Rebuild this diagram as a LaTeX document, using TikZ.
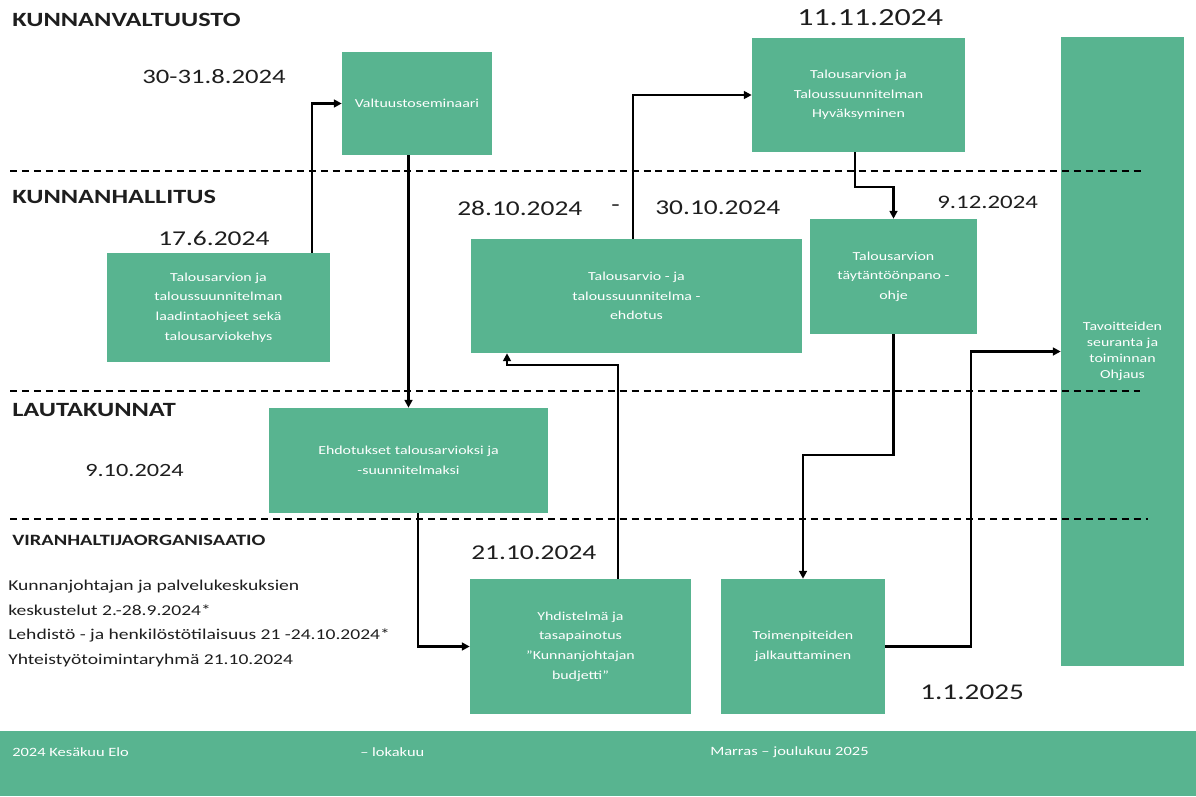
\documentclass[tikz,border=0pt]{standalone}
\usepackage{fontspec}
\setmainfont{Carlito}[FakeStretch=1.3]
\usetikzlibrary{arrows.meta,calc,positioning}
\definecolor{vihrea}{RGB}{88,180,144}
\definecolor{teksti}{RGB}{30,30,30}
\tikzset{
  laatikko/.style={fill=vihrea, text=white, align=center, inner sep=2pt, font=\fontsize{8.7}{14}\selectfont},
  otsikko/.style={anchor=west, inner sep=0pt, text=teksti, font=\bfseries\fontsize{14.4}{16}\selectfont},
  pvm/.style={anchor=west, inner sep=0pt, text=teksti, font=\fontsize{15}{18}\selectfont},
  alaosa/.style={anchor=west, inner sep=0pt, text=white, font=\fontsize{9}{11}\selectfont},
  nuoli/.style={line width=1.6pt, -{Triangle[length=5.5pt,width=5.5pt]}},
  raja/.style={line width=1.4pt, dash pattern=on 5pt off 3.5pt},
}
\begin{document}
\begin{tikzpicture}[x=0.025cm,y=-0.025cm]
\useasboundingbox (0,0) rectangle (1196,796);
% tasot
\node[otsikko] (valtuusto) at (12,20) {KUNNANVALTUUSTO};
\node[otsikko] (hallitus) at (12,197) {KUNNANHALLITUS};
\node[otsikko] (lautakunnat) at (12,410) {LAUTAKUNNAT};
\node[otsikko, font=\bfseries\fontsize{11.2}{12}\selectfont] (viranhaltijat) at (12,540) {VIRANHALTIJAORGANISAATIO};
% paivamaarat
\node[pvm, font=\fontsize{14.6}{18}\selectfont] (pvm1) at (142,77) {30-31.8.2024};
\node[pvm, font=\fontsize{17.5}{20}\selectfont] (pvm2) at (797,18) {11.11.2024};
\node[pvm] (pvm3) at (158,238) {17.6.2024};
\node[pvm] (pvm4) at (457,208) {28.10.2024};
\node[pvm] (valiviiva) at (611,208) {-};
\node[pvm] (pvm5) at (655,208) {30.10.2024};
\node[pvm, font=\fontsize{13.6}{18}\selectfont] (pvm6) at (937,202) {9.12.2024};
\node[pvm, font=\fontsize{13.3}{18}\selectfont] (pvm7) at (85,470) {9.10.2024};
\node[pvm] (pvm8) at (471,553) {21.10.2024};
\node[pvm, font=\fontsize{16}{20}\selectfont] (pvm9) at (920,692) {1.1.2025};
\node[anchor=north west, inner sep=0pt, align=left, text=teksti, font=\fontsize{10.7}{17.4}\selectfont] (keskustelut) at (8,580)
  {Kunnanjohtajan ja palvelukeskuksien\\ keskustelut 2.-28.9.2024*\\ Lehdistö - ja henkilöstötilaisuus 21 -24.10.2024*\\ Yhteistyötoimintaryhmä 21.10.2024};
% laatikot
\node[laatikko, minimum width=3.75cm, minimum height=2.575cm] (seminaari) at (417,103.5) {Valtuustoseminaari};
\node[laatikko, minimum width=5.325cm, minimum height=2.85cm] (hyvaksyminen) at (858.5,95) {Talousarvion ja\\ Taloussuunnitelman\\ Hyväksyminen};
\node[laatikko, minimum width=5.575cm, minimum height=2.725cm] (ohjeet) at (218.5,307.5) {Talousarvion ja\\ taloussuunnitelman\\ laadintaohjeet sekä\\ talousarviokehys};
\node[laatikko, minimum width=8.275cm, minimum height=2.85cm] (ehdotus) at (636.5,296) {Talousarvio - ja\\ taloussuunnitelma -\\ ehdotus};
\node[laatikko, minimum width=4.175cm, minimum height=2.875cm] (taytanto) at (893.5,276.5) {Talousarvion\\ täytäntöönpano -\\ ohje};
\node[laatikko, minimum width=3.075cm, minimum height=15.725cm, font=\fontsize{8.7}{11.5}\selectfont] (seuranta) at (1122.5,351.5) {Tavoitteiden\\ seuranta ja\\ toiminnan\\ Ohjaus};
\node[laatikko, minimum width=6.975cm, minimum height=2.625cm] (ehdotukset) at (408.5,460.5) {Ehdotukset talousarvioksi ja\\ -suunnitelmaksi};
\node[laatikko, minimum width=5.525cm, minimum height=3.375cm] (yhdistelma) at (580.5,646.5) {Yhdistelmä ja\\ tasapainotus\\ "Kunnanjohtajan\\ budjetti"};
\node[laatikko, minimum width=4.1cm, minimum height=3.375cm] (toimenpiteet) at (803,646.5) {Toimenpiteiden\\ jalkauttaminen};
% aikajana alhaalla
\node[fill=vihrea, anchor=north west, inner sep=0pt, minimum width=29.9cm, minimum height=1.625cm] (palkki) at (0,731) {};
\node[alaosa] (kausi1) at (12,752) {2024 Kesäkuu Elo};
\node[alaosa] (kausi2) at (360,752) {– lokakuu};
\node[alaosa] (kausi3) at (710,752) {Marras – joulukuu 2025};
% rajaviivat
\draw[raja] (10,171) -- (1145,171);
\draw[raja] (10,391) -- (1140,391);
\draw[raja] (10,519) -- (1148,519);
% nuolet
\coordinate (k1) at (312,0);
\coordinate (k3) at (418,0);
\coordinate (k4) at (618,365);
\coordinate (k4b) at (507,365);
\coordinate (k5) at (633,0);
\coordinate (k6) at (855,187);
\coordinate (k7) at (0,455);
\coordinate (k8) at (971,0);
\draw[nuoli] (ohjeet.north -| k1) |- (seminaari.west);
\draw[nuoli] (seminaari.south -| ehdotukset.north) -- (ehdotukset.north);
\draw[nuoli] (ehdotukset.south -| k3) |- (yhdistelma.west);
\draw[nuoli] (yhdistelma.north -| k4) |- (k4b) -- (ehdotus.south -| k4b);
\draw[nuoli] (ehdotus.north -| k5) |- (hyvaksyminen.west);
\draw[nuoli] (hyvaksyminen.south -| k6) -- (k6) -| (taytanto.north);
\draw[nuoli] (taytanto.south) -- (taytanto.south |- k7) -| (toimenpiteet.north);
\draw[nuoli] (toimenpiteet.east) -| (k8 |- seuranta.west) -- (seuranta.west);
\end{tikzpicture}
\end{document}
